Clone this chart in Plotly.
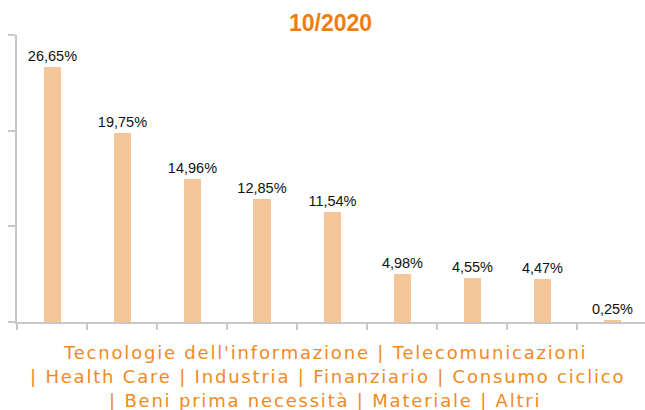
import plotly.graph_objects as go

categories = ["Tecnologie dell'informazione", "Telecomunicazioni", "Health Care",
              "Industria", "Finanziario", "Consumo ciclico",
              "Beni prima necessità", "Materiale", "Altri"]
values = [26.65, 19.75, 14.96, 12.85, 11.54, 4.98, 4.55, 4.47, 0.25]
labels = [f"{v:.2f}%".replace(".", ",") for v in values]
title_text = "10/2020"
legend_lines = ["Tecnologie dell'informazione | Telecomunicazioni",
                "| Health Care | Industria | Finanziario | Consumo ciclico",
                "| Beni prima necessità | Materiale | Altri"]

W, H = 645, 410
L, R, T, B = 17, 0, 35, 88
pw = W - L - R
ph = H - T - B

xs = list(range(len(categories)))
fig = go.Figure()
fig.add_trace(go.Bar(
    x=xs, y=values, width=0.243,
    marker=dict(color="#F5C59A", line=dict(width=0)),
    text=labels, textposition="outside", cliponaxis=False, constraintext="none",
    textfont=dict(family="Liberation Sans, Arial", size=14.5, color="#111111"),
    hoverinfo="skip",
))

axcol = "#C8C8C8"
fig.update_layout(
    width=W, height=H,
    margin=dict(l=L, r=R, t=T, b=B),
    paper_bgcolor="white", plot_bgcolor="white",
    showlegend=False,
    bargap=0,
    uniformtext=dict(mode=False),
    xaxis=dict(range=[-0.5, -0.5 + pw / 70.0], showgrid=False, zeroline=False,
               tickmode="array", tickvals=[i - 0.5 for i in range(len(categories) + 1)],
               ticktext=[""] * (len(categories) + 1),
               ticks="outside", ticklen=6, tickwidth=2, tickcolor=axcol,
               showline=True, linecolor=axcol, linewidth=2),
    yaxis=dict(range=[0, 30], showgrid=False, zeroline=False,
               tickmode="array", tickvals=[0, 10, 20, 30], ticktext=[""] * 4,
               ticks="outside", ticklen=7, tickwidth=2, tickcolor=axcol,
               showline=True, linecolor=axcol, linewidth=2),
)

fig.add_annotation(text=f"<b>{title_text}</b>", xref="paper", yref="paper",
                   x=(330 - L) / pw, y=1 + (T - 23) / ph, xanchor="center", yanchor="middle",
                   showarrow=False, font=dict(family="Liberation Sans, Arial", size=23, color="#F07D0A"))

centers = [325, 327, 325]
ys = [352, 376, 400]
for line, cx, cy in zip(legend_lines, centers, ys):
    fig.add_annotation(text=f'<span style="letter-spacing:1.8px">{line}</span>',
                       xref="paper", yref="paper",
                       x=(cx - L) / pw, y=1 - (cy - T) / ph, xanchor="center", yanchor="middle",
                       showarrow=False,
                       font=dict(family="DejaVu Sans", size=18, color="#F08A1E"))

fig.write_html("out.html")
